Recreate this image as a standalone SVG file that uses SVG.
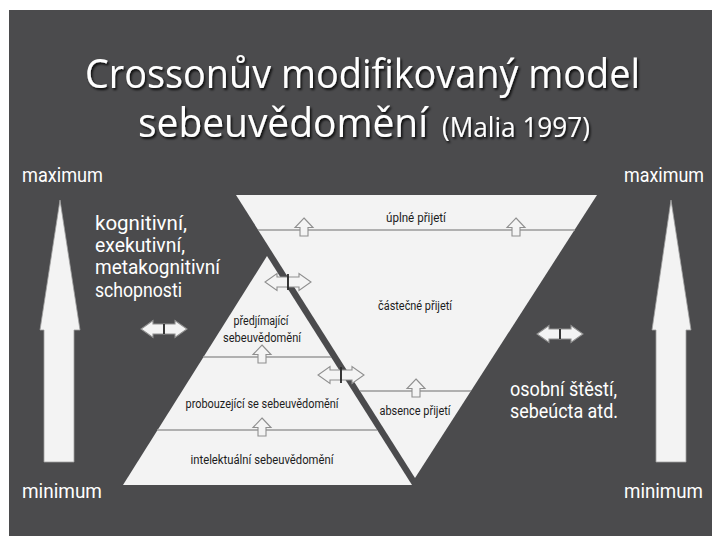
<svg xmlns="http://www.w3.org/2000/svg" width="712" height="536" viewBox="0 0 712 536">
<style>
.bg{fill:#4b4b4d}
.shape{fill:#f3f3f3}
.lvl{stroke:#9a9a9a;stroke-width:1.6;fill:none}
.wt{fill:#ffffff;font-family:Roboto,"Open Sans",sans-serif}
.title{fill:#ffffff;font-family:"Open Sans","Liberation Sans",sans-serif;filter:url(#sh)}
.lab{fill:#1c1c1c;font-family:Roboto,"Liberation Sans",sans-serif;font-size:12.5px;text-anchor:middle}
.ua{fill:#f4f4f4;stroke:#8f8f8f;stroke-width:1.1}
.da{fill:#f4f4f4;stroke:#8f8f8f;stroke-width:1.1}
.div{stroke:#2a2a2a;stroke-width:1.8}
.big{fill:#f3f3f3;stroke:#a0a0a0;stroke-width:0.8}
</style>
<defs>
<filter id="sh" x="-5%" y="-20%" width="110%" height="150%">
<feDropShadow dx="1.5" dy="2" stdDeviation="0.8" flood-color="#000" flood-opacity="0.85"/>
</filter>
<path id="up" d="M0,-12 L9,-2.5 L4,-2.5 L4,6 L-4,6 L-4,-2.5 L-9,-2.5 Z"/>
<g id="dbl">
<path d="M0,-5 L-11,-5 L-11,-8.5 L-23,0 L-11,8.5 L-11,5 L0,5 Z"/>
<path d="M0,-5 L11,-5 L11,-8.5 L23,0 L11,8.5 L11,5 L0,5 Z"/>
</g>
</defs>
<rect x="0" y="0" width="712" height="536" fill="#ffffff"/>
<rect class="bg" x="9" y="10" width="703" height="526"/>

<g id="title">
<text class="title" x="85" y="88" font-size="40" textLength="555" lengthAdjust="spacingAndGlyphs">Crossonův modifikovaný model</text>
<text class="title" x="138" y="137" font-size="40" textLength="290" lengthAdjust="spacingAndGlyphs">sebeuvědomění</text>
<text class="title" x="442" y="137" font-size="27" textLength="148" lengthAdjust="spacingAndGlyphs">(Malia 1997)</text>
</g>

<g id="left-scale">
<text class="wt" x="22" y="182" font-size="20" textLength="81" lengthAdjust="spacingAndGlyphs">maximum</text>
<path class="big" d="M60,200 L80,330 L74,330 L74,462 L44,462 L44,330 L40,330 Z"/>
<text class="wt" x="22" y="498" font-size="20" textLength="80" lengthAdjust="spacingAndGlyphs">minimum</text>
</g>

<g id="right-scale">
<text class="wt" x="624" y="182" font-size="20" textLength="80" lengthAdjust="spacingAndGlyphs">maximum</text>
<path class="big" d="M671,200 L691,330 L686,330 L686,462 L656,462 L656,330 L652,330 Z"/>
<text class="wt" x="624" y="498" font-size="20" textLength="79" lengthAdjust="spacingAndGlyphs">minimum</text>
</g>

<g id="abilities">
<text class="wt" x="95" y="230" font-size="20" textLength="92" lengthAdjust="spacingAndGlyphs">kognitivní,</text>
<text class="wt" x="95" y="252" font-size="20" textLength="90" lengthAdjust="spacingAndGlyphs">exekutivní,</text>
<text class="wt" x="95" y="274" font-size="20" textLength="125" lengthAdjust="spacingAndGlyphs">metakognitivní</text>
<text class="wt" x="95" y="297" font-size="20" textLength="87" lengthAdjust="spacingAndGlyphs">schopnosti</text>
</g>

<g id="wellbeing">
<text class="wt" x="510" y="396" font-size="20" textLength="107" lengthAdjust="spacingAndGlyphs">osobní štěstí,</text>
<text class="wt" x="510" y="418" font-size="20" textLength="108" lengthAdjust="spacingAndGlyphs">sebeúcta atd.</text>
</g>

<g id="acceptance">
<polygon class="shape" points="236,195 597,195 415,478"/>
<line class="lvl" x1="258" y1="230" x2="575" y2="230"/>
<line class="lvl" x1="360" y1="391" x2="471" y2="391"/>
<text class="lab" x="416" y="222" textLength="60" lengthAdjust="spacingAndGlyphs">úplné přijetí</text>
<text class="lab" x="415" y="310" textLength="74" lengthAdjust="spacingAndGlyphs">částečné přijetí</text>
<text class="lab" x="415" y="415" textLength="71" lengthAdjust="spacingAndGlyphs">absence přijetí</text>
</g>

<g id="self-awareness">
<polygon class="shape" points="267,256 412,485 123,485"/>
<line class="lvl" x1="203" y1="357" x2="331" y2="357"/>
<line class="lvl" x1="157" y1="430" x2="377" y2="430"/>
<text class="lab" x="261" y="325" textLength="55" lengthAdjust="spacingAndGlyphs">předjímající</text>
<text class="lab" x="262" y="342" textLength="78" lengthAdjust="spacingAndGlyphs">sebeuvědomění</text>
<text class="lab" x="262" y="408" textLength="153" lengthAdjust="spacingAndGlyphs">probouzející se sebeuvědomění</text>
<text class="lab" x="262" y="464" textLength="143" lengthAdjust="spacingAndGlyphs">intelektuální sebeuvědomění</text>
</g>

<g id="connectors">
<use href="#up" class="ua" x="304" y="230"/>
<use href="#up" class="ua" x="516" y="230"/>
<use href="#up" class="ua" x="416" y="391"/>
<use href="#up" class="ua" x="262" y="357"/>
<use href="#up" class="ua" x="262" y="430"/>
<g transform="translate(164,329)"><use href="#dbl" class="da"/><line class="div" x1="0" y1="-5" x2="0" y2="5"/></g>
<g transform="translate(560,334)"><use href="#dbl" class="da"/><line class="div" x1="0" y1="-5" x2="0" y2="5"/></g>
<g transform="translate(288,282)"><use href="#dbl" class="da"/><line class="div" x1="0" y1="-8" x2="0" y2="8"/></g>
<g transform="translate(341,375)"><use href="#dbl" class="da"/><line class="div" x1="0" y1="-8" x2="0" y2="8"/></g>
</g>
</svg>
